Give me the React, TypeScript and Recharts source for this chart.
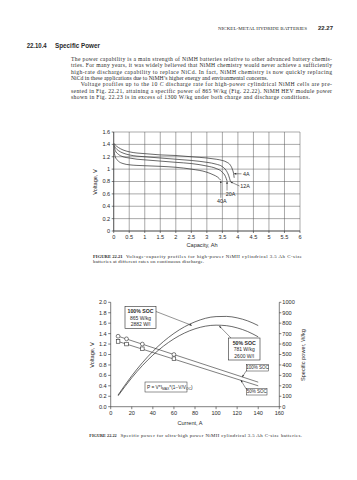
import React from "react";
import { LineChart, Line, XAxis, YAxis, CartesianGrid, ComposedChart } from "recharts";

// ---------- Figure 22.21 data ----------
const capacityTicks = [0, 0.5, 1, 1.5, 2, 2.5, 3, 3.5, 4, 4.5, 5, 5.5, 6];
const voltageTicks1 = [0, 0.2, 0.4, 0.6, 0.8, 1, 1.2, 1.4, 1.6];

const cap4A = [0, 0.05, 0.15, 0.3, 0.5, 0.75, 1, 1.5, 2, 2.5, 3, 3.3, 3.5, 3.65, 3.75, 3.82, 3.86, 3.88];
const volt4A = [1.42, 1.39, 1.35, 1.31, 1.28, 1.26, 1.25, 1.23, 1.22, 1.2, 1.18, 1.16, 1.14, 1.11, 1.07, 1.0, 0.93, 0.86];
const cap12A = [0, 0.05, 0.15, 0.3, 0.5, 0.75, 1, 1.5, 2, 2.5, 3, 3.3, 3.5, 3.62, 3.7, 3.76];
const volt12A = [1.4, 1.35, 1.3, 1.26, 1.23, 1.21, 1.2, 1.18, 1.16, 1.14, 1.11, 1.08, 1.04, 0.98, 0.9, 0.8];
const cap20A = [0, 0.05, 0.15, 0.3, 0.5, 0.75, 1, 1.5, 2, 2.5, 3, 3.3, 3.5, 3.6, 3.65];
const volt20A = [1.38, 1.3, 1.24, 1.2, 1.18, 1.16, 1.15, 1.13, 1.11, 1.09, 1.05, 1.01, 0.95, 0.88, 0.81];
const cap40A = [0, 0.05, 0.15, 0.3, 0.5, 0.75, 1, 1.5, 2, 2.5, 3, 3.2, 3.35, 3.45];
const volt40A = [1.32, 1.2, 1.13, 1.09, 1.07, 1.06, 1.055, 1.045, 1.03, 1.0, 0.95, 0.91, 0.87, 0.82];

// ---------- Figure 22.22 data ----------
const currentTicks = [0, 20, 40, 60, 80, 100, 120, 140, 160];
const voltageTicks2 = [0, 0.2, 0.4, 0.6, 0.8, 1.0, 1.2, 1.4, 1.6, 1.8, 2.0];
const powerTicks = [0, 100, 200, 300, 400, 500, 600, 700, 800, 900, 1000];

const markerCurrent = [7, 15, 30, 60];
const volt100Markers = [1.35, 1.3, 1.2, 1.0];
const volt50Markers = [1.25, 1.2, 1.11, 0.92];
const fitCurrent = [7, 140];
const volt100Fit = [1.35, 0.47];
const volt50Fit = [1.25, 0.4];
const powerCurrent = [7, 20, 40, 60, 80, 100, 110, 120, 130, 140];
const power100 = [112, 296, 530, 702, 813, 863, 865, 851, 822, 777];
const power50 = [104, 277, 494, 650, 746, 781, 776, 755, 720, 669];

const zip = (xs: number[], ys: number[]) => xs.map((x, i) => ({ x, y: ys[i] }));

// plot rectangles (page coordinates) used for annotations
const P1 = { left: 113.7, right: 300, top: 132, bottom: 231 };
const P2 = { left: 110.7, right: 279.3, top: 302.3, bottom: 406.7 };
const px1 = (c: number) => P1.left + (c / 6) * (P1.right - P1.left);
const py1 = (v: number) => P1.bottom - (v / 1.6) * (P1.bottom - P1.top);
const px2 = (a: number) => P2.left + (a / 160) * (P2.right - P2.left);
const py2 = (v: number) => P2.bottom - (v / 2) * (P2.bottom - P2.top);

const INK = "#2a2a2a";
const tickStyle = { fontSize: 5.6, fontFamily: "'Liberation Sans', Arial, sans-serif", fill: INK };
const SANS = "'Liberation Sans', Arial, sans-serif";
const SERIF = "'Liberation Serif', 'Times New Roman', serif";

const circleDot = (props: any) => (
  <circle key={props.key ?? `c${props.index}`} cx={props.cx} cy={props.cy} r={1.9} fill="#fff" stroke={INK} strokeWidth={0.6} />
);
const squareDot = (props: any) => (
  <rect key={props.key ?? `s${props.index}`} x={props.cx - 1.8} y={props.cy - 1.8} width={3.6} height={3.6} fill="#fff" stroke={INK} strokeWidth={0.6} />
);

const minorCap = Array.from({ length: 61 }, (_, i) => i / 10);
const minorVolt = Array.from({ length: 17 }, (_, i) => i / 10);

function Arrow({ x1, y1, x2, y2 }: { x1: number; y1: number; x2: number; y2: number }) {
  const a = Math.atan2(y2 - y1, x2 - x1);
  const L = 2.2, W = 0.9;
  const bx = x2 - L * Math.cos(a), by = y2 - L * Math.sin(a);
  const nx = -Math.sin(a) * W, ny = Math.cos(a) * W;
  return (
    <g>
      <line x1={x1} y1={y1} x2={x2} y2={y2} stroke={INK} strokeWidth={0.5} />
      <polygon points={`${x2},${y2} ${bx + nx},${by + ny} ${bx - nx},${by - ny}`} fill={INK} />
    </g>
  );
}

export default function App() {
  const para = [
    { x: 71, w: 261, t: "The power capability is a main strength of NiMH batteries relative to other advanced battery chemis-" },
    { x: 71, w: 261, t: "tries. For many years, it was widely believed that NiMH chemistry would never achieve a sufficiently" },
    { x: 71, w: 261, t: "high-rate discharge capability to replace NiCd. In fact, NiMH chemistry is now quickly replacing" },
    { x: 71, w: 197, t: "NiCd in these applications due to NiMH\u2019s higher energy and environmental concerns." },
    { x: 80.7, w: 251.3, t: "" },
    { x: 71, w: 261, t: "sented in Fig. 22.21, attaining a specific power of 865 W/kg (Fig. 22.22). NiMH HEV module power" },
    { x: 71, w: 239, t: "shown in Fig. 22.23 is in excess of 1300 W/kg under both charge and discharge conditions." },
  ];
  return (
    <div style={{ position: "absolute", left: 0, top: 0, width: 357, height: 480, background: "#fff" }}>
      {/* Figure 22.21 */}
      <div style={{ position: "absolute", left: 60, top: 120 }}>
        <LineChart width={260} height={140} margin={{ top: 12, right: 20, left: 33.7, bottom: 14 }}>
          <CartesianGrid xAxisId="main" yAxisId="main" stroke="#555" strokeWidth={0.5} horizontalValues={voltageTicks1} verticalValues={capacityTicks} />
          <XAxis xAxisId="main" type="number" dataKey="x" domain={[0, 6]} ticks={capacityTicks} interval={0}
            tick={tickStyle} tickSize={2} tickMargin={2} height={15} stroke={INK} strokeWidth={0.6} allowDataOverflow />
          <XAxis xAxisId="minor" type="number" dataKey="x" domain={[0, 6]} ticks={minorCap} interval={0}
            tick={false} tickSize={1.5} height={0} axisLine={false} stroke={INK} strokeWidth={0.5} allowDataOverflow />
          <YAxis yAxisId="main" type="number" domain={[0, 1.6]} ticks={voltageTicks1} interval={0}
            tick={tickStyle} tickSize={2} tickMargin={1.5} width={20} stroke={INK} strokeWidth={0.6} allowDataOverflow />
          <YAxis yAxisId="minor" type="number" domain={[0, 1.6]} ticks={minorVolt} interval={0}
            tick={false} tickSize={1.5} width={0} axisLine={false} stroke={INK} strokeWidth={0.5} allowDataOverflow />
          <Line xAxisId="main" yAxisId="main" data={zip(cap4A, volt4A)} dataKey="y" type="monotone" stroke={INK} strokeWidth={0.7} dot={false} isAnimationActive={false} />
          <Line xAxisId="main" yAxisId="main" data={zip(cap12A, volt12A)} dataKey="y" type="monotone" stroke={INK} strokeWidth={0.7} dot={false} isAnimationActive={false} />
          <Line xAxisId="main" yAxisId="main" data={zip(cap20A, volt20A)} dataKey="y" type="monotone" stroke={INK} strokeWidth={0.7} dot={false} isAnimationActive={false} />
          <Line xAxisId="main" yAxisId="main" data={zip(cap40A, volt40A)} dataKey="y" type="monotone" stroke={INK} strokeWidth={0.7} dot={false} isAnimationActive={false} />
        </LineChart>
      </div>

      {/* Figure 22.22 */}
      <div style={{ position: "absolute", left: 60, top: 290 }}>
        <ComposedChart width={270} height={140} margin={{ top: 12.3, right: 30.7, left: 30.7, bottom: 8.3 }}>
          <XAxis type="number" dataKey="x" domain={[0, 160]} ticks={currentTicks} interval={0}
            tick={tickStyle} tickSize={2.5} tickMargin={1.5} height={15} stroke={INK} strokeWidth={0.6} allowDataOverflow />
          <YAxis yAxisId="v" type="number" domain={[0, 2]} ticks={voltageTicks2} interval={0}
            tickFormatter={(v: number) => v.toFixed(1)}
            tick={tickStyle} tickSize={2.5} tickMargin={1.5} width={20} stroke={INK} strokeWidth={0.6} allowDataOverflow />
          <YAxis yAxisId="p" orientation="right" type="number" domain={[0, 1000]} ticks={powerTicks} interval={0}
            tick={tickStyle} tickSize={2} tickMargin={1} width={20} stroke={INK} strokeWidth={0.6} allowDataOverflow />
          <Line yAxisId="v" data={zip(fitCurrent, volt100Fit)} dataKey="y" type="linear" stroke={INK} strokeWidth={0.6} dot={false} isAnimationActive={false} />
          <Line yAxisId="v" data={zip(fitCurrent, volt50Fit)} dataKey="y" type="linear" stroke={INK} strokeWidth={0.6} dot={false} isAnimationActive={false} />
          <Line yAxisId="v" data={zip(markerCurrent, volt100Markers)} dataKey="y" stroke="none" dot={circleDot} isAnimationActive={false} />
          <Line yAxisId="v" data={zip(markerCurrent, volt50Markers)} dataKey="y" stroke="none" dot={squareDot} isAnimationActive={false} />
          <Line yAxisId="p" data={zip(powerCurrent, power100)} dataKey="y" type="monotone" stroke={INK} strokeWidth={0.7} dot={false} isAnimationActive={false} />
          <Line yAxisId="p" data={zip(powerCurrent, power50)} dataKey="y" type="monotone" stroke={INK} strokeWidth={0.7} dot={false} isAnimationActive={false} />
        </ComposedChart>
      </div>

      {/* page text and annotations */}
      <svg width={357} height={480} style={{ position: "absolute", left: 0, top: 0 }}>
        <text x={218} y={29.8} fontFamily={SERIF} fontSize={4.6} fill={INK} textLength={89} lengthAdjust="spacingAndGlyphs">NICKEL-METAL HYDRIDE BATTERIES</text>
        <text x={318} y={30} fontFamily={SANS} fontWeight="bold" fontSize={5.6} fill={INK} textLength={15} lengthAdjust="spacingAndGlyphs">22.27</text>
        <text x={26.7} y={48} fontFamily={SANS} fontWeight="bold" fontSize={6.3} fill={INK} textLength={20} lengthAdjust="spacingAndGlyphs">22.10.4</text>
        <text x={55} y={48} fontFamily={SANS} fontWeight="bold" fontSize={6.3} fill={INK} textLength={45} lengthAdjust="spacingAndGlyphs">Specific Power</text>

        {para.map((p, i) =>
          i === 4 ? (
            <text key={i} x={p.x} y={61 + i * 6.33} fontFamily={SERIF} fontSize={5.7} fill={INK} textLength={p.w} lengthAdjust="spacing">
              Voltage profiles up to the 10 <tspan fontStyle="italic">C</tspan> discharge rate for high-power cylindrical NiMH cells are pre-
            </text>
          ) : (
            <text key={i} x={p.x} y={61 + i * 6.33} fontFamily={SERIF} fontSize={5.7} fill={INK} textLength={p.w} lengthAdjust="spacing">{p.t}</text>
          )
        )}

        {/* Figure 22.21 titles and labels */}
        <text x={95} y={182} transform="rotate(-90 95 182)" textAnchor="middle" dominantBaseline="central" fontFamily={SANS} fontSize={5.6} fill={INK}>Voltage, V</text>
        <text x={202} y={245} textAnchor="middle" dominantBaseline="central" fontFamily={SANS} fontSize={5.6} fill={INK}>Capacity, Ah</text>
        <Arrow x1={241.5} y1={py1(0.925)} x2={px1(3.875)} y2={py1(0.925)} />
        <text x={243} y={174.3} dominantBaseline="central" fontFamily={SANS} fontSize={5.4} fill={INK}>4A</text>
        <Arrow x1={239.5} y1={186} x2={px1(3.76)} y2={py1(0.795)} />
        <text x={240.2} y={186.2} dominantBaseline="central" fontFamily={SANS} fontSize={5.4} fill={INK}>12A</text>
        <Arrow x1={px1(3.65)} y1={190.5} x2={px1(3.65)} y2={py1(0.8)} />
        <text x={230.5} y={193.6} textAnchor="middle" dominantBaseline="central" fontFamily={SANS} fontSize={5.4} fill={INK}>20A</text>
        <Arrow x1={px1(3.45)} y1={197.8} x2={px1(3.45)} y2={py1(0.81)} />
        <text x={221.7} y={200.8} textAnchor="middle" dominantBaseline="central" fontFamily={SANS} fontSize={5.4} fill={INK}>40A</text>

        <text x={93} y={258.3} fontFamily={SERIF} fontWeight="bold" fontSize={4.7} fill={INK} textLength={29.7} lengthAdjust="spacingAndGlyphs">FIGURE 22.21</text>
        <text x={126} y={258.3} fontFamily={SERIF} fontSize={4.9} fill={INK} textLength={176} lengthAdjust="spacing">Voltage-capacity profiles for high-power NiMH cylindrical 3.5 Ah C-size</text>
        <text x={93} y={263.4} fontFamily={SERIF} fontSize={4.9} fill={INK} textLength={111} lengthAdjust="spacing">batteries at different rates on continuous discharge.</text>

        {/* Figure 22.22 titles and labels */}
        <text x={91.7} y={355} transform="rotate(-90 91.7 355)" textAnchor="middle" dominantBaseline="central" fontFamily={SANS} fontSize={5.6} fill={INK}>Voltage, V</text>
        <text x={303.3} y={355} transform="rotate(-90 303.3 355)" textAnchor="middle" dominantBaseline="central" fontFamily={SANS} fontSize={5.6} fill={INK}>Specific power, W/kg</text>
        <text x={190} y={423.3} textAnchor="middle" dominantBaseline="central" fontFamily={SANS} fontSize={5.6} fill={INK}>Current, A</text>

        <rect x={125} y={306.5} width={31} height={22} fill="#fff" stroke={INK} strokeWidth={0.6} />
        <text x={140.5} y={311.3} textAnchor="middle" dominantBaseline="central" fontFamily={SANS} fontWeight="bold" fontSize={5.2} fill={INK}>100% SOC</text>
        <text x={140.5} y={317.8} textAnchor="middle" dominantBaseline="central" fontFamily={SANS} fontSize={5} fill={INK}>865 W/kg</text>
        <text x={140.5} y={324.3} textAnchor="middle" dominantBaseline="central" fontFamily={SANS} fontSize={5} fill={INK}>2882 W/l</text>
        <Arrow x1={156} y1={311.5} x2={px2(77)} y2={py2(1.6) + 2.2} />

        <rect x={228.5} y={338} width={31.5} height={22} fill="#fff" stroke={INK} strokeWidth={0.6} />
        <text x={244.2} y={342.8} textAnchor="middle" dominantBaseline="central" fontFamily={SANS} fontWeight="bold" fontSize={5.2} fill={INK}>50% SOC</text>
        <text x={244.2} y={349.3} textAnchor="middle" dominantBaseline="central" fontFamily={SANS} fontSize={5} fill={INK}>781 W/kg</text>
        <text x={244.2} y={355.8} textAnchor="middle" dominantBaseline="central" fontFamily={SANS} fontSize={5} fill={INK}>2600 W/l</text>
        <Arrow x1={231} y1={338} x2={px2(103)} y2={py2(1.562) + 0.8} />

        <rect x={246.5} y={364.5} width={22} height={6.5} fill="#fff" stroke={INK} strokeWidth={0.5} />
        <text x={257.5} y={367.9} textAnchor="middle" dominantBaseline="central" fontFamily={SANS} fontSize={4.5} fill={INK}>100% SOC</text>
        <Arrow x1={246.5} y1={370.5} x2={px2(124.8)} y2={py2(0.568)} />

        <rect x={246.5} y={388.5} width={20.5} height={6.5} fill="#fff" stroke={INK} strokeWidth={0.5} />
        <text x={256.7} y={391.9} textAnchor="middle" dominantBaseline="central" fontFamily={SANS} fontSize={4.5} fill={INK}>50% SOC</text>
        <Arrow x1={246.5} y1={389.5} x2={px2(123.5)} y2={py2(0.508)} />

        <rect x={145} y={382} width={42} height={10} fill="#fff" stroke={INK} strokeWidth={0.5} />
        <text x={147} y={388.6} fontFamily={SANS} fontSize={4.8} fill={INK}>
          P = V*I<tspan fontSize={3.4} dy={1.2}>MAX</tspan><tspan dy={-1.2}>*(1−V/V</tspan><tspan fontSize={3.4} dy={1.2}>OC</tspan><tspan dy={-1.2}>)</tspan>
        </text>

        <text x={89.3} y={436.6} fontFamily={SERIF} fontWeight="bold" fontSize={4.7} fill={INK} textLength={27.4} lengthAdjust="spacingAndGlyphs">FIGURE 22.22</text>
        <text x={120.5} y={436.6} fontFamily={SERIF} fontSize={4.9} fill={INK} textLength={181.5} lengthAdjust="spacing">Specific power for ultra-high power NiMH cylindrical 3.5 Ah C-size batteries.</text>
      </svg>
    </div>
  );
}
